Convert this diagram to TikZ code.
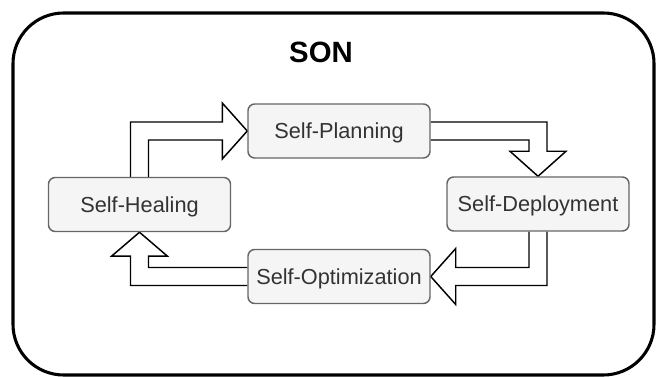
\documentclass[tikz,border=0pt]{standalone}
\usepackage{fontspec}
\setmainfont{Liberation Sans}
\usetikzlibrary{calc,backgrounds}
\definecolor{boxfill}{HTML}{F5F5F5}
\definecolor{boxline}{HTML}{666666}
\definecolor{boxtext}{HTML}{333333}
\tikzset{
  stepbox/.style={draw=boxline, fill=boxfill, line width=1.1pt, rounded corners=5pt,
    minimum width=136.5pt, minimum height=40.5pt, inner sep=0pt,
    text height=11.7pt, text depth=0pt,
    text=boxtext, font=\fontsize{16.3pt}{19pt}\selectfont},
  blockarrow/.style={draw=black, fill=white, line width=1.1pt, line join=miter},
  sonframe/.style={draw=black, line width=2.3pt, rounded corners=38pt},
  titletext/.style={font=\bfseries\fontsize{22pt}{26pt}\selectfont, text=black, inner sep=0pt,
    text height=15.8pt, text depth=0pt}
}
\begin{document}
\begin{tikzpicture}[x=0.75pt,y=-0.75pt]
\useasboundingbox (0,0) rectangle (656,377);
\draw[sonframe] (13,13) rectangle (654,375);
\node[titletext] (title) at (321,51.5) {SON};
\node[stepbox] (plan) at (339,131) {Self-Planning};
\node[stepbox] (heal) at (139.5,204.5) {Self-Healing};
\node[stepbox] (depl) at (538,204) {Self-Deployment};
\node[stepbox] (opt) at (339,276.5) {Self-Optimization};
\begin{scope}[on background layer]
% Healing -> Planning
\coordinate (c1) at (heal.north |- plan.west);
\draw[blockarrow] ($(heal.north)+(-9,0)$) -- ($(c1)+(-9,-9)$) -- ($(plan.west)+(-25,-9)$)
  -- ($(plan.west)+(-25,-28)$) -- (plan.west) -- ($(plan.west)+(-25,28)$)
  -- ($(plan.west)+(-25,9)$) -- ($(c1)+(9,9)$) -- ($(heal.north)+(9,0)$);
% Planning -> Deployment
\coordinate (c2) at (depl.north |- plan.east);
\draw[blockarrow] ($(plan.east)+(0,-9)$) -- ($(c2)+(9,-9)$) -- ($(depl.north)+(9,-25)$)
  -- ($(depl.north)+(28,-25)$) -- (depl.north) -- ($(depl.north)+(-28,-25)$)
  -- ($(depl.north)+(-9,-25)$) -- ($(c2)+(-9,9)$) -- ($(plan.east)+(0,9)$);
% Deployment -> Optimization
\coordinate (c3) at (depl.south |- opt.east);
\draw[blockarrow] ($(depl.south)+(9,0)$) -- ($(c3)+(9,9)$) -- ($(opt.east)+(25,9)$)
  -- ($(opt.east)+(25,28)$) -- (opt.east) -- ($(opt.east)+(25,-28)$)
  -- ($(opt.east)+(25,-9)$) -- ($(c3)+(-9,-9)$) -- ($(depl.south)+(-9,0)$);
% Optimization -> Healing
\coordinate (c4) at (heal.south |- opt.west);
\draw[blockarrow] ($(opt.west)+(0,9)$) -- ($(c4)+(-9,9)$) -- ($(heal.south)+(-9,24)$)
  -- ($(heal.south)+(-28,24)$) -- (heal.south) -- ($(heal.south)+(28,24)$)
  -- ($(heal.south)+(9,24)$) -- ($(c4)+(9,-9)$) -- ($(opt.west)+(0,-9)$);
\end{scope}
\end{tikzpicture}
\end{document}
